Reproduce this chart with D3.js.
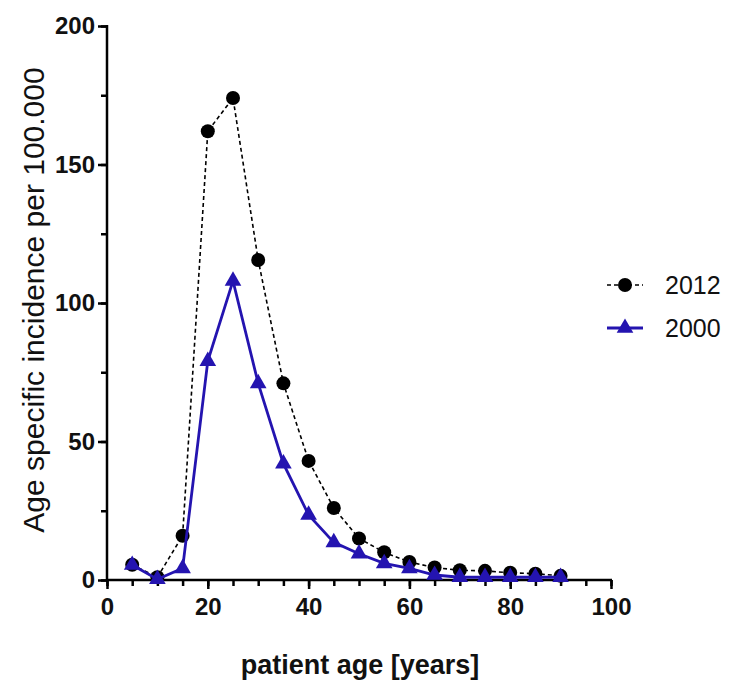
<!DOCTYPE html>
<html>
<head>
<meta charset="utf-8">
<script src="https://cdn.jsdelivr.net/npm/d3@7"></script>
<style>
  html, body { margin: 0; padding: 0; background: #fff; }
  svg { display: block; font-family: "Liberation Sans", Arial, Helvetica, sans-serif; }
</style>
</head>
<body>
<svg id="chart" width="730" height="682"></svg>
<script>
// ---- data ----
const ages = [5, 10, 15, 20, 25, 30, 35, 40, 45, 50, 55, 60, 65, 70, 75, 80, 85, 90];
const inc2012 = [5.5, 1, 16, 162, 174, 115.5, 71, 43, 26, 15, 10, 6.5, 4.5, 3.5, 3.3, 2.6, 2.3, 1.5];
const inc2000 = [5.4, 0.3, 4.2, 79, 108, 71, 42, 23.5, 13.6, 9.5, 6, 4.2, 1.8, 1, 1, 1, 1, 1];
const seriesNames = ["2012", "2000"];
const xTicks = [0, 20, 40, 60, 80, 100];
const yTicks = [0, 50, 100, 150, 200];
const xMinor = d3.range(0, 101, 5);
const yMinor = d3.range(0, 201, 25);

const svg = d3.select("#chart");
const x = d3.scaleLinear().domain([0, 100]).range([107, 611]);
const y = d3.scaleLinear().domain([0, 200]).range([580, 26]);
const blue = "#2414b0";

// axes
const axisX = svg.append("g").attr("transform", `translate(0,${y(0)})`);
axisX.call(d3.axisBottom(x).tickValues(xMinor).tickSize(6).tickFormat(""));
axisX.call(g => g.selectAll(".tick line").attr("stroke-width", 2.5));
axisX.select(".domain").remove();
axisX.append("line").attr("x1", x(0) - 1).attr("x2", x(100) + 1).attr("stroke", "#000").attr("stroke-width", 2.5);
const axisXMajor = svg.append("g").attr("transform", `translate(0,${y(0)})`)
  .call(d3.axisBottom(x).tickValues(xTicks).tickSize(9).tickPadding(9));
axisXMajor.select(".domain").remove();
axisXMajor.selectAll(".tick line").attr("stroke-width", 2.5);
axisXMajor.selectAll(".tick text").attr("font-size", 24).attr("font-weight", "bold")
  .attr("font-family", "Liberation Sans, Arial, sans-serif").attr("fill", "#111");

const axisY = svg.append("g").attr("transform", `translate(${x(0)},0)`);
axisY.call(d3.axisLeft(y).tickValues(yMinor).tickSize(6).tickFormat(""));
axisY.selectAll(".tick line").attr("stroke-width", 2.5);
axisY.select(".domain").remove();
axisY.append("line").attr("y1", y(0) + 1).attr("y2", y(200) - 1).attr("stroke", "#000").attr("stroke-width", 2.5);
const axisYMajor = svg.append("g").attr("transform", `translate(${x(0)},0)`)
  .call(d3.axisLeft(y).tickValues(yTicks).tickSize(9).tickPadding(3));
axisYMajor.select(".domain").remove();
axisYMajor.selectAll(".tick line").attr("stroke-width", 2.5);
axisYMajor.selectAll(".tick text").attr("font-size", 24).attr("font-weight", "bold")
  .attr("font-family", "Liberation Sans, Arial, sans-serif").attr("fill", "#111");

// axis titles
svg.append("text")
  .attr("transform", `translate(44,300) rotate(-90)`)
  .attr("text-anchor", "middle")
  .attr("font-size", 30)
  .attr("fill", "#111")
  .text("Age specific incidence per 100.000");
svg.append("text")
  .attr("x", 360).attr("y", 674)
  .attr("text-anchor", "middle")
  .attr("font-size", 27).attr("font-weight", "bold")
  .attr("fill", "#111")
  .text("patient age [years]");

// series
const d2012 = ages.map((a, i) => [a, inc2012[i]]);
const d2000 = ages.map((a, i) => [a, inc2000[i]]);
const line = d3.line().x(d => x(d[0])).y(d => y(d[1]));

svg.append("path").datum(d2012).attr("d", line)
  .attr("fill", "none").attr("stroke", "#000").attr("stroke-width", 1.6).attr("stroke-dasharray", "4,3");
svg.append("g").selectAll("circle").data(d2012).join("circle")
  .attr("cx", d => x(d[0])).attr("cy", d => y(d[1])).attr("r", 7).attr("fill", "#000");

svg.append("path").datum(d2000).attr("d", line)
  .attr("fill", "none").attr("stroke", blue).attr("stroke-width", 2.8);
const tri = d3.symbol().type(d3.symbolTriangle).size(120);
svg.append("g").selectAll("path").data(d2000).join("path")
  .attr("d", tri)
  .attr("transform", d => `translate(${x(d[0])},${y(d[1])})`)
  .attr("fill", blue);

// legend
const lg = svg.append("g");
const legY = [285, 328];
lg.append("line").attr("x1", 607).attr("x2", 643).attr("y1", legY[0]).attr("y2", legY[0])
  .attr("stroke", "#000").attr("stroke-width", 1.6).attr("stroke-dasharray", "4,3");
lg.append("circle").attr("cx", 625).attr("cy", legY[0]).attr("r", 7).attr("fill", "#000");
lg.append("line").attr("x1", 607).attr("x2", 643).attr("y1", legY[1]).attr("y2", legY[1])
  .attr("stroke", blue).attr("stroke-width", 2.8);
lg.append("path").attr("d", tri).attr("transform", `translate(625,${legY[1]})`).attr("fill", blue);
lg.selectAll("text").data(seriesNames).join("text")
  .attr("x", 665).attr("y", (d, i) => legY[i]).attr("dy", "0.35em")
  .attr("font-size", 25).attr("fill", "#111")
  .text(d => d);
</script>
</body>
</html>
